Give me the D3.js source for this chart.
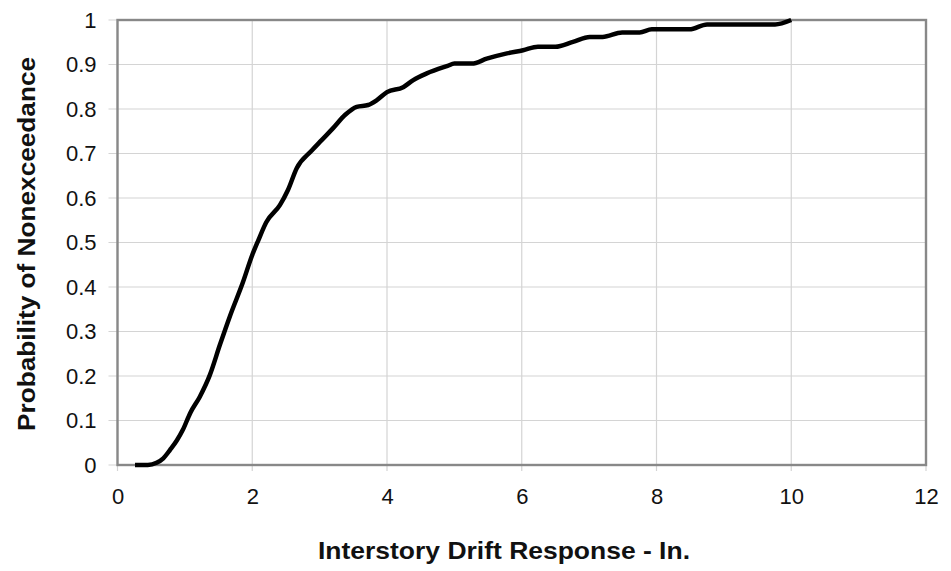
<!DOCTYPE html>
<html>
<head>
<meta charset="utf-8">
<script src="https://cdn.jsdelivr.net/npm/d3@7"></script>
<style>
  html, body { margin: 0; padding: 0; background: #fff; }
  svg { display: block; }
  text { font-family: "Liberation Sans", Arial, sans-serif; fill: #111; }
</style>
</head>
<body>
<script>
// Data
const driftIn = [0.26, 0.45, 0.58, 0.68, 0.78, 0.88, 0.97, 1.08, 1.22, 1.37, 1.52, 1.67, 1.86, 2.0, 2.09, 2.21, 2.41, 2.53, 2.66, 2.88, 3.03, 3.2, 3.38, 3.55, 3.72, 3.85, 4.0, 4.24, 4.39, 4.59, 4.9, 5.0, 5.26, 5.48, 5.78, 6.02, 6.24, 6.5, 6.76, 7.01, 7.2, 7.49, 7.75, 7.93, 8.49, 8.75, 9.76, 10.0];
const probNonexceed = [0, 0, 0.005, 0.015, 0.034, 0.055, 0.079, 0.117, 0.153, 0.202, 0.27, 0.335, 0.41, 0.472, 0.505, 0.546, 0.584, 0.618, 0.667, 0.706, 0.73, 0.757, 0.787, 0.805, 0.809, 0.82, 0.838, 0.849, 0.865, 0.88, 0.897, 0.902, 0.902, 0.913, 0.925, 0.932, 0.94, 0.94, 0.951, 0.962, 0.962, 0.972, 0.972, 0.979, 0.979, 0.99, 0.99, 1.0];
const xTicks = [0, 2, 4, 6, 8, 10, 12];
const yTicks = [0, 0.1, 0.2, 0.3, 0.4, 0.5, 0.6, 0.7, 0.8, 0.9, 1];
const xTitle = "Interstory Drift Response - In.";
const yTitle = "Probability of Nonexceedance";

const W = 951, H = 571;
const margin = { left: 117.5, right: 25, top: 20, bottom: 106 };
const iw = W - margin.left - margin.right;
const ih = H - margin.top - margin.bottom;

const svg = d3.select("body").append("svg").attr("width", W).attr("height", H);
const g = svg.append("g").attr("transform", `translate(${margin.left},${margin.top})`);

const x = d3.scaleLinear().domain([0, 12]).range([0, iw]);
const y = d3.scaleLinear().domain([0, 1]).range([ih, 0]);

// Gridlines
g.append("g").selectAll("line.h").data(yTicks).join("line")
  .attr("x1", -9).attr("x2", iw)
  .attr("y1", d => y(d)).attr("y2", d => y(d))
  .attr("stroke", "#d4d4d4").attr("stroke-width", 1.2);
g.append("g").selectAll("line.v").data(xTicks).join("line")
  .attr("y1", 0).attr("y2", ih + 6)
  .attr("x1", d => x(d)).attr("x2", d => x(d))
  .attr("stroke", "#d4d4d4").attr("stroke-width", 1.2);

// Frame
g.append("rect").attr("x", 0).attr("y", 0).attr("width", iw).attr("height", ih)
  .attr("fill", "none").attr("stroke", "#888").attr("stroke-width", 2.4);

// Axes
const xAxis = g.append("g").attr("transform", `translate(0,${ih})`)
  .call(d3.axisBottom(x).tickValues(xTicks).tickSize(0).tickPadding(23).tickFormat(d3.format("d")));
xAxis.select(".domain").remove();
xAxis.selectAll("text").attr("font-size", 22).style("font-family", "'Liberation Sans', Arial, sans-serif").attr("fill", "#111");

const yAxis = g.append("g")
  .call(d3.axisLeft(y).tickValues(yTicks).tickSize(0).tickPadding(21).tickFormat(d => d3.format("")(+d.toFixed(1))));
yAxis.select(".domain").remove();
yAxis.selectAll("text").attr("font-size", 22).style("font-family", "'Liberation Sans', Arial, sans-serif").attr("fill", "#111");

// Curve
const pts = driftIn.map((d, i) => [d, probNonexceed[i]]);
g.append("path").datum(pts)
  .attr("fill", "none").attr("stroke", "#000").attr("stroke-width", 4.5)
  .attr("stroke-linejoin", "round").attr("stroke-linecap", "butt")
  .attr("d", d3.line().x(d => x(d[0])).y(d => y(d[1])).curve(d3.curveMonotoneX));

// Titles
svg.append("text").attr("x", 504).attr("y", 559).attr("text-anchor", "middle")
  .attr("font-size", 24).attr("font-weight", "bold")
  .attr("textLength", 372).attr("lengthAdjust", "spacingAndGlyphs").text(xTitle);
svg.append("text").attr("transform", `translate(35,244) rotate(-90)`).attr("text-anchor", "middle")
  .attr("font-size", 24).attr("font-weight", "bold")
  .attr("textLength", 374).attr("lengthAdjust", "spacingAndGlyphs").text(yTitle);
</script>
</body>
</html>
